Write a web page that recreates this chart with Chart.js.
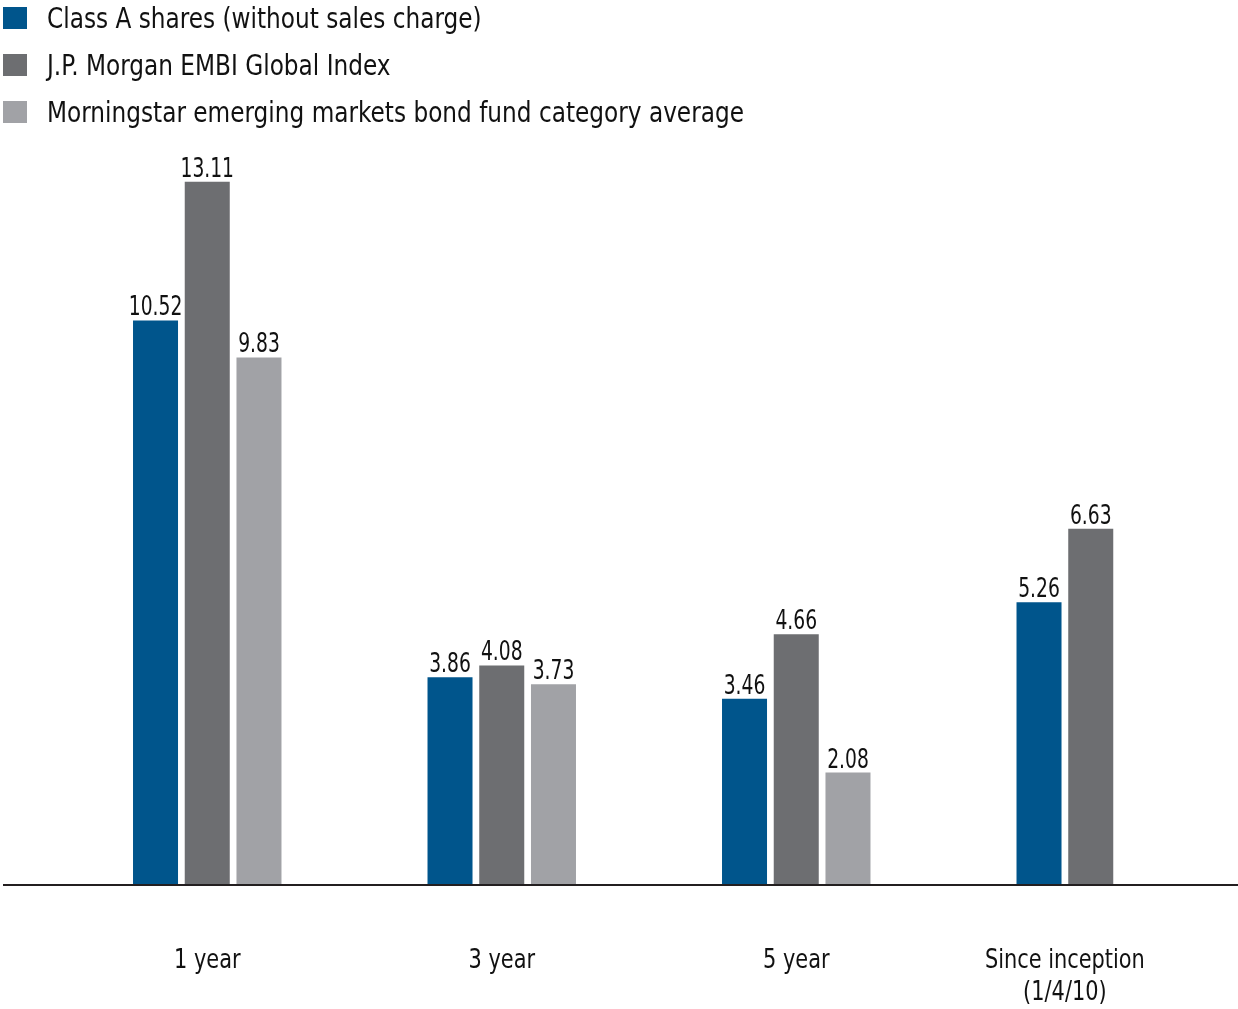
<!DOCTYPE html>
<html>
<head>
<meta charset="utf-8">
<script src="https://cdn.jsdelivr.net/npm/chart.js@4"></script>
<style>
  html, body { margin: 0; padding: 0; background: #ffffff; }
  #wrap { position: relative; width: 1238px; height: 1009px; overflow: hidden; }
  #chart { position: absolute; left: 0; top: 0; }
  #legend { position: absolute; left: 0; top: -5px; font-family: "Liberation Sans Narrow", "DejaVu Sans Condensed", "Roboto", sans-serif; font-size: 29px; color: #111; }
  .item { position: relative; height: 47px; line-height: 47px; white-space: nowrap; }
  .sw { position: absolute; left: 3px; top: 12px; width: 24px; height: 22px; }
  .lbl { position: absolute; left: 47px; top: 0; transform: scaleX(0.89); transform-origin: 0 50%; }
</style>
</head>
<body>
<div id="wrap">
  <canvas id="chart" width="1238" height="1009"></canvas>
  <div id="legend"></div>
</div>
<script>
const categories = ['1 year', '3 year', '5 year', ['Since inception', '(1/4/10)']];
const seriesNames = ['Class A shares (without sales charge)', 'J.P. Morgan EMBI Global Index', 'Morningstar emerging markets bond fund category average'];
const classAValues = [10.52, 3.86, 3.46, 5.26];
const embiValues = [13.11, 4.08, 4.66, 6.63];
const morningstarValues = [9.83, 3.73, 2.08, null];
const seriesColors = ['#00558c', '#6d6e71', '#a1a2a6'];

const FONT = '"Liberation Sans Narrow", "DejaVu Sans Condensed", Roboto, sans-serif';

function narrowText(ctx, text, x, y, sx) {
  ctx.save();
  ctx.translate(x, y);
  ctx.scale(sx, 1);
  ctx.fillText(text, 0, 0);
  ctx.restore();
}

const valueLabels = {
  id: 'valueLabels',
  afterDatasetsDraw(chart) {
    const ctx = chart.ctx;
    ctx.save();
    ctx.font = '26px ' + FONT;
    ctx.fillStyle = '#111111';
    ctx.textAlign = 'center';
    ctx.textBaseline = 'alphabetic';
    chart.data.datasets.forEach((ds, di) => {
      const meta = chart.getDatasetMeta(di);
      meta.data.forEach((el, i) => {
        const v = ds.data[i];
        if (v === null || v === undefined) return;
        narrowText(ctx, v.toFixed(2), el.x, el.y - 5, 0.8);
      });
    });
    ctx.restore();
  }
};

const baseAxis = {
  id: 'baseAxis',
  afterDatasetsDraw(chart) {
    const ctx = chart.ctx;
    const y0 = chart.scales.y.getPixelForValue(0);
    ctx.save();
    ctx.strokeStyle = '#231f20';
    ctx.lineWidth = 2;
    ctx.beginPath();
    ctx.moveTo(3, y0 + 1);
    ctx.lineTo(chart.width, y0 + 1);
    ctx.stroke();

    // category labels centred under the bars that exist
    ctx.font = '27px ' + FONT;
    ctx.fillStyle = '#111111';
    ctx.textAlign = 'center';
    ctx.textBaseline = 'alphabetic';
    chart.data.labels.forEach((lab, i) => {
      const xs = [];
      chart.data.datasets.forEach((ds, di) => {
        const v = ds.data[i];
        if (v === null || v === undefined) return;
        xs.push(chart.getDatasetMeta(di).data[i].x);
      });
      const cx = xs.reduce((a, b) => a + b, 0) / xs.length;
      const lines = Array.isArray(lab) ? lab : [lab];
      lines.forEach((t, k) => narrowText(ctx, t, cx, y0 + 84 + k * 32, 0.86));
    });
    ctx.restore();
  }
};

const datasets = [classAValues, embiValues, morningstarValues].map((vals, i) => ({
  label: seriesNames[i],
  data: vals,
  backgroundColor: seriesColors[i],
  borderWidth: 0,
  categoryPercentage: 0.527,
  barPercentage: 0.87
}));

const chart = new Chart(document.getElementById('chart'), {
  type: 'bar',
  data: { labels: categories, datasets },
  options: {
    responsive: false,
    animation: false,
    layout: { padding: { top: 134, bottom: 125, left: 60, right: 0 } },
    plugins: { legend: { display: false }, tooltip: { enabled: false } },
    scales: {
      x: { display: false, offset: true },
      y: { display: false, min: 0, max: 14 }
    }
  },
  plugins: [valueLabels, baseAxis]
});

const legend = document.getElementById('legend');
chart.data.datasets.forEach(ds => {
  const item = document.createElement('div');
  item.className = 'item';
  const sw = document.createElement('span');
  sw.className = 'sw';
  sw.style.background = ds.backgroundColor;
  const lbl = document.createElement('span');
  lbl.className = 'lbl';
  lbl.textContent = ds.label;
  item.appendChild(sw);
  item.appendChild(lbl);
  legend.appendChild(item);
});
</script>
</body>
</html>
